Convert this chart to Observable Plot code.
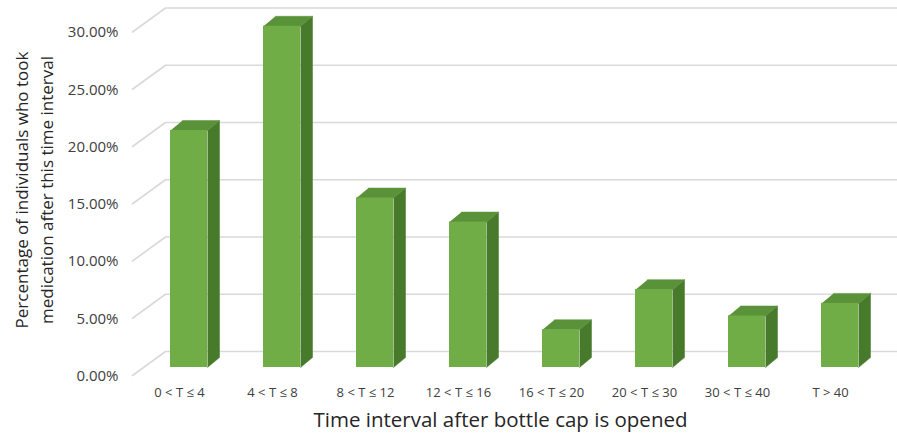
<!DOCTYPE html>
<html>
<head>
<meta charset="utf-8">
<script src="https://cdn.jsdelivr.net/npm/d3@7"></script>
<script src="https://cdn.jsdelivr.net/npm/@observablehq/plot@0.6"></script>
<style>
  html, body { margin: 0; padding: 0; background: #fff; }
  #chart svg { display: block; }
</style>
</head>
<body>
<div id="chart"></div>
<script>
// Share of individuals who took medication after each interval since the cap was opened
const categories = ["0 < T ≤ 4", "4 < T ≤ 8", "8 < T ≤ 12", "12 < T ≤ 16", "16 < T ≤ 20", "20 < T ≤ 30", "30 < T ≤ 40", "T > 40"];
const shares = [0.207, 0.298, 0.148, 0.127, 0.033, 0.068, 0.045, 0.056];
const yTicks = [0, 0.05, 0.10, 0.15, 0.20, 0.25, 0.30];

const xTitle = "Time interval after bottle cap is opened";
const yTitle = "Percentage of individuals who took\nmedication after this time interval";

// Layout of the pseudo-3D scene (pixels)
const W = 897, H = 439;
const X0 = 188.5, STEP = 93;          // centre of first bar, spacing between bars
const Y0 = 367, PX = 1145;            // baseline of bar fronts, pixels per unit share
const px2x = p => p / STEP;           // pixel offsets -> data offsets
const px2y = p => -p / PX;

const HALF = px2x(18.5);              // half bar width
const DX = px2x(12), DY = px2y(-10);  // bar depth (side & top faces)
const AXIS_DX = -9.5, AXIS_DY = 8;    // front (axis) plane relative to bar fronts
const WALL_LEFT = px2x(132 - X0), WALL_RIGHT = px2x(896 - X0);
const WALL_DX = px2x(33);             // depth from axis plane to back wall

const bars = shares.map((v, i) => ({i, v, label: categories[i]}));

// Gridlines: diagonal on the side wall, then horizontal along the back wall
const grid = yTicks.flatMap(t => [
  {t, x: WALL_LEFT, y: t + px2y(AXIS_DY)},
  {t, x: WALL_LEFT + WALL_DX, y: t + px2y(-16)},
  {t, x: WALL_RIGHT, y: t + px2y(-16)}
]);

const sides = bars.flatMap(d => [
  {i: d.i, x: d.i + HALF, y: 0},
  {i: d.i, x: d.i + HALF + DX, y: DY},
  {i: d.i, x: d.i + HALF + DX, y: d.v + DY},
  {i: d.i, x: d.i + HALF, y: d.v}
]);
const tops = bars.flatMap(d => [
  {i: d.i, x: d.i - HALF, y: d.v},
  {i: d.i, x: d.i + HALF, y: d.v},
  {i: d.i, x: d.i + HALF + DX, y: d.v + DY},
  {i: d.i, x: d.i - HALF + DX, y: d.v + DY}
]);

const chart = Plot.plot({
  width: W,
  height: H,
  marginLeft: 132,
  marginRight: 37,
  marginTop: 0,
  marginBottom: 0,
  style: {fontFamily: "'Open Sans', sans-serif", background: "#fff", overflow: "visible"},
  x: {domain: [0, categories.length - 1], range: [X0, X0 + (categories.length - 1) * STEP], axis: null},
  y: {domain: [0, 0.30], range: [Y0, Y0 - 0.30 * PX], axis: null},
  marks: [
    Plot.line(grid, {x: "x", y: "y", z: "t", stroke: "#d9d9d9", strokeWidth: 1.6}),
    Plot.line(sides, {x: "x", y: "y", z: "i", fill: "#477a2b", stroke: "#477a2b", strokeWidth: 0.5}),
    Plot.line(tops, {x: "x", y: "y", z: "i", fill: "#5a9239", stroke: "#5a9239", strokeWidth: 0.5}),
    Plot.rect(bars, {x1: d => d.i - HALF, x2: d => d.i + HALF, y1: 0, y2: "v", fill: "#70ad47"}),
    // y tick labels on the front plane
    Plot.text(yTicks, {
      y: d => d, frameAnchor: "left", textAnchor: "end", dx: -14, dy: AXIS_DY + 0.5,
      text: d => d3.format(".2%")(d), fontSize: 15, fill: "#404040"
    }),
    // category labels
    Plot.text(bars, {
      x: "i", y: 0, dx: AXIS_DX, dy: 25, text: "label", fontSize: 13, fill: "#404040"
    }),
    Plot.text([xTitle], {
      frameAnchor: "bottom", textAnchor: "middle", lineAnchor: "middle", text: d => d,
      dx: 4, dy: -19, fontSize: 20.5, fill: "#262626"
    }),
    Plot.text([yTitle], {
      frameAnchor: "left", textAnchor: "middle", lineAnchor: "middle", text: d => d,
      rotate: -90, dx: -100, dy: -30, fontSize: 17, lineHeight: 1.5, fill: "#262626"
    })
  ]
});

document.getElementById("chart").appendChild(chart);
</script>
</body>
</html>
